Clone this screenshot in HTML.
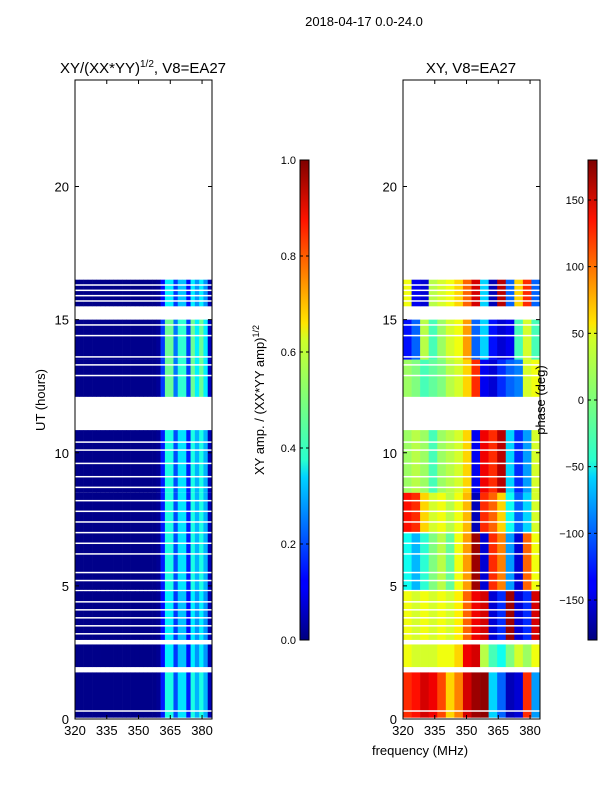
<!DOCTYPE html>
<html><head><meta charset="utf-8"><style>
body{margin:0;background:#fff;}
svg{display:block;font-family:"Liberation Sans",sans-serif;}
</style></head><body>
<svg id="fig" width="600" height="800" viewBox="0 0 600 800">
<defs>
<linearGradient id="jet" x1="0" y1="1" x2="0" y2="0">
<stop offset="0" stop-color="#00007f"/><stop offset="0.11" stop-color="#0000ff"/><stop offset="0.125" stop-color="#0000ff"/>
<stop offset="0.34" stop-color="#00d4ff"/><stop offset="0.375" stop-color="#29ffce"/><stop offset="0.5" stop-color="#7dff7a"/>
<stop offset="0.625" stop-color="#ceff29"/><stop offset="0.66" stop-color="#ffe600"/><stop offset="0.875" stop-color="#ff1300"/>
<stop offset="1" stop-color="#7f0000"/></linearGradient>
</defs>
<text x="364" y="26" font-size="13" text-anchor="middle">2018-04-17 0.0-24.0</text>
<g id="left"></g>
<g id="right"></g>
<g id="cb1"></g>
<g id="cb2"></g>
<text x="143" y="73" font-size="15" text-anchor="middle">XY/(XX*YY)<tspan font-size="10" dy="-6">1/2</tspan><tspan dy="6">, V8=EA27</tspan></text>
<text x="471" y="73" font-size="15" text-anchor="middle">XY, V8=EA27</text>
<text x="420" y="755" font-size="13" text-anchor="middle">frequency (MHz)</text>
<text transform="translate(45,400) rotate(-90)" font-size="13" text-anchor="middle">UT (hours)</text>
<text transform="translate(264,400) rotate(-90)" font-size="13" text-anchor="middle">XY amp. / (XX*YY amp)<tspan font-size="9" dy="-5">1/2</tspan></text>
<text transform="translate(545,400) rotate(-90)" font-size="13" text-anchor="middle">phase (deg)</text>
</svg>
<script>
// ---- data ----
const blocks=[[0.05,1.75],[1.95,2.8],[2.97,4.8],[4.85,7.0],[7.0,8.5],[8.5,10.85],[12.1,13.5],[13.5,15.0],[15.5,16.5]];
const thinGaps=[0.3,3.2,3.5,3.8,4.1,4.4,5.2,5.5,6.2,6.6,7.0,7.4,7.8,8.2,8.7,9.1,9.6,10.1,10.4,12.9,13.3,13.6,14.4,14.8,15.7,15.9,16.1,16.3];
const phaseProfiles=[
 [120,130,150,140,110,60,90,150,170,175,-60,-100,-160,-150,120,-80],
 [40,30,30,30,40,40,60,140,150,20,-20,-40,0,30,10,40],
 [40,30,40,30,40,30,50,100,140,150,-150,-120,170,-150,-120,150],
 [-40,-70,-30,0,20,-10,40,80,170,-150,120,90,-80,-150,100,40],
 [130,120,60,30,40,20,40,70,-160,120,100,60,-40,-100,-60,30],
 [10,20,10,-20,10,20,30,60,-140,140,120,160,-60,-120,-80,30],
 [10,0,-20,-10,0,20,30,60,120,-140,-150,-120,-100,-90,30,40],
 [-130,-100,20,-20,10,30,40,80,-100,-60,-130,-150,-140,-20,30,-20],
 [40,-140,-150,20,30,40,60,100,150,-60,-160,160,-100,60,120,-100]];
const ampChannels=[0.01,0.01,0.01,0.01,0.01,0.01,0.01,0.01,0.01,0.01,0.01,0.01,0.01,0.01,0.01,0.01,0.01,0.01,0.01,0.02,
 0.15,0.4,0.4,0.2,0.35,0.35,0.15,0.4,0.3,0.4,0.3,0.05];
const ampScale=[1,0.9,0.9,1,1,1,1.2,1.2,0.9];
const xTicks=[320,335,350,365,380];
const yTicks=[0,5,10,15,20];
const ampTicks=[0.0,0.2,0.4,0.6,0.8,1.0];
const phaseTicks=[-150,-100,-50,0,50,100,150];
// ---- scales ----
const NS="http://www.w3.org/2000/svg";
const F0=320,F1=384.7,T0=0,T1=24,Y0=719,Y1=80;
const yS=t=>Y0+(t-T0)*(Y1-Y0)/(T1-T0);
function xS(x0,w){return f=>x0+(f-F0)*w/(F1-F0);}
function jet(v){v=Math.max(0,Math.min(1,v));
 const r=Math.max(0,Math.min(1,1.5-Math.abs(4*v-3))),g=Math.max(0,Math.min(1,1.5-Math.abs(4*v-2))),b=Math.max(0,Math.min(1,1.5-Math.abs(4*v-1)));
 return `rgb(${Math.round(r*255)},${Math.round(g*255)},${Math.round(b*255)})`;}
function mk(tag,attrs,parent){const e=document.createElementNS(NS,tag);for(const k in attrs)e.setAttribute(k,attrs[k]);parent.appendChild(e);return e;}
function panel(gid,x0,w,kind){
 const g=document.getElementById(gid),X=xS(x0,w);
 blocks.forEach((b,i)=>{
  const prof=kind==='amp'?ampChannels:phaseProfiles[i];
  const n=prof.length,df=(F1-F0)/n;
  prof.forEach((v,j)=>{
   const val=kind==='amp'?Math.min(1,v*ampScale[i]):(v+180)/360;
   const r=mk('rect',{x:X(F0+j*df),y:yS(b[1]),width:X(F0+(j+1)*df)-X(F0+j*df)+0.3,height:yS(b[0])-yS(b[1]),fill:jet(val)},g);
   
   
  });
 });
 thinGaps.forEach(t=>{const r=mk('rect',{x:x0,y:yS(t)-0.75,width:w,height:1.5,fill:'#fff'},g);
  
  });
 const fr=mk('rect',{x:x0,y:Y1,width:w,height:Y0-Y1,fill:'none',stroke:'#000','stroke-width':1},g);
 
 
 xTicks.forEach(f=>{const x=X(f);
  mk('line',{x1:x,x2:x,y1:Y0,y2:Y0-4,stroke:'#000'},g);mk('line',{x1:x,x2:x,y1:Y1,y2:Y1+4,stroke:'#000'},g);
  const t=mk('text',{x:x,y:Y0+16,'font-size':13,'text-anchor':'middle'},g);t.textContent=f;
  
  });
 yTicks.forEach(h=>{const y=yS(h);
  mk('line',{x1:x0,x2:x0+4,y1:y,y2:y,stroke:'#000'},g);mk('line',{x1:x0+w,x2:x0+w-4,y1:y,y2:y,stroke:'#000'},g);
  const t=mk('text',{x:x0-6,y:y+5,'font-size':13,'text-anchor':'end'},g);t.textContent=h;
  
  });
}
panel('left',75,137,'amp');
panel('right',403,137,'phase');
function colorbar(gid,x0,vals,vmin,vmax,fmt){
 const g=document.getElementById(gid),top=160,bot=640;
 const r=mk('rect',{x:x0,y:top,width:9,height:bot-top,fill:'url(#jet)',stroke:'#000','stroke-width':1},g);
 
 
 vals.forEach(v=>{const y=bot-(v-vmin)*(bot-top)/(vmax-vmin);
  mk('line',{x1:x0,x2:x0+3,y1:y,y2:y,stroke:'#000'},g);mk('line',{x1:x0+9,x2:x0+6,y1:y,y2:y,stroke:'#000'},g);
  const t=mk('text',{x:x0-4,y:y+4,'font-size':11,'text-anchor':'end'},g);t.textContent=fmt(v);
  
  });
}
colorbar('cb1',300,ampTicks,0,1,v=>v.toFixed(1));
colorbar('cb2',588,phaseTicks,-180,180,v=>v<0?'\u2212'+(-v):String(v));
</script>
</body></html>
